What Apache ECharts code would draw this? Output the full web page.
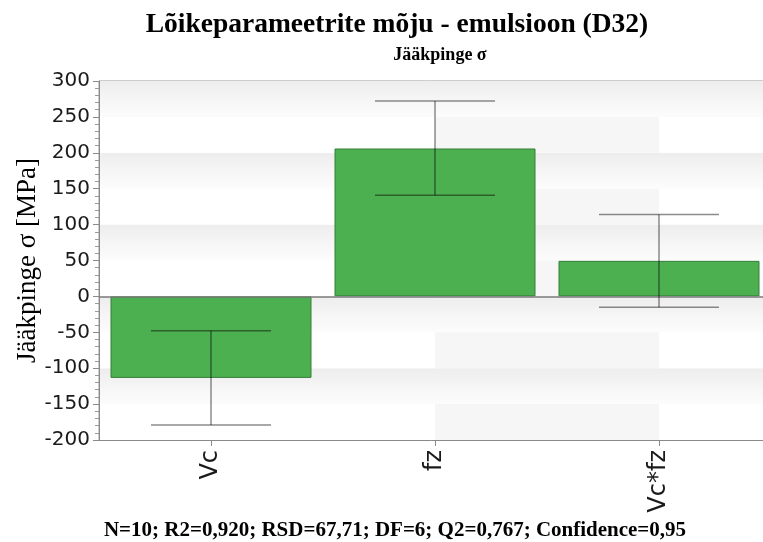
<!DOCTYPE html>
<html>
<head>
<meta charset="utf-8">
<title>Lõikeparameetrite mõju - emulsioon (D32)</title>
<script src="https://cdn.jsdelivr.net/npm/echarts@6/dist/echarts.min.js"></script>
<style>
  html, body { margin: 0; padding: 0; background: #ffffff; overflow: hidden; }
  #chart { width: 763px; height: 542px; }
</style>
</head>
<body>
<div id="chart"></div>
<script>
// Model terms and their coefficients (effect on residual stress, MPa)
const categories = ['Vc', 'fz', 'Vc*fz'];
const effects = [-113.5, 206, 49.5];
// 95 % confidence interval ends for each coefficient
const ciLow = [-179, 141, -15];
const ciHigh = [-48, 272, 114];
// Value axis ticks
const yTicks = [-200, -150, -100, -50, 0, 50, 100, 150, 200, 250, 300];

const mainTitle = 'Lõikeparameetrite mõju - emulsioon (D32)';
const subTitle = 'Jääkpinge σ';
const yName = 'Jääkpinge σ [MPa]';
const footer = 'N=10; R2=0,920; RSD=67,71; DF=6; Q2=0,767; Confidence=0,95';

const serif = '"Liberation Serif", "Times New Roman", serif';
const sans = '"DejaVu Sans", "Noto Sans", sans-serif';

const chart = echarts.init(document.getElementById('chart'), null, { renderer: 'canvas' });

const bandGray = new echarts.graphic.LinearGradient(0, 0, 0, 1, [
  { offset: 0, color: '#ededed' },
  { offset: 0.6, color: '#f7f7f7' },
  { offset: 1, color: '#fcfcfc' }
]);

// light bands (every other tick interval, starting at the bottom) get a faint
// shading in the middle column of the background
const shadedBands = [];
for (let i = 0; i < yTicks.length - 1; i += 2) {
  shadedBands.push([
    { xAxis: categories[1], yAxis: yTicks[i + 1] },
    { xAxis: categories[2], yAxis: yTicks[i] }
  ]);
}

const errorData = categories.map((c, i) => [i, ciLow[i], ciHigh[i]]);

chart.setOption({
  animation: false,
  backgroundColor: '#ffffff',
  title: [
    {
      text: mainTitle,
      left: 397, top: 11, textAlign: 'center', padding: 0,
      textStyle: { fontFamily: serif, fontWeight: 'bold', fontSize: 27.5, color: '#000000' }
    },
    {
      text: subTitle,
      left: 440, top: 46, textAlign: 'center', padding: 0,
      textStyle: { fontFamily: serif, fontWeight: 'bold', fontSize: 18, color: '#000000' }
    },
    {
      text: footer,
      left: 395, top: 520, textAlign: 'center', padding: 0,
      textStyle: { fontFamily: serif, fontWeight: 'bold', fontSize: 21, color: '#000000' }
    }
  ],
  grid: {
    left: 99, top: 81, width: 672, height: 359,
    outerBoundsMode: 'none',
    containLabel: false,
    show: true, backgroundColor: '#ffffff', borderColor: '#9a9a9a', borderWidth: 1
  },
  xAxis: {
    type: 'category',
    data: categories,
    axisLine: { onZero: false, lineStyle: { color: '#8a8a8a', width: 1 } },
    axisTick: { show: true, alignWithLabel: true, length: 6, lineStyle: { color: '#8a8a8a' } },
    axisLabel: {
      rotate: 90, margin: 10, fontFamily: sans, fontSize: 24, color: '#1a1a1a'
    },
    splitLine: { show: false }
  },
  yAxis: {
    type: 'value',
    min: yTicks[0], max: yTicks[yTicks.length - 1], interval: 50,
    name: yName,
    nameLocation: 'middle', nameRotate: 90, nameGap: 58,
    nameMoveOverlap: false,
    nameTextStyle: { fontFamily: serif, fontSize: 27, color: '#000000' },
    axisLine: { show: true, lineStyle: { color: '#8a8a8a', width: 1 } },
    axisTick: { show: true, length: 6, lineStyle: { color: '#8a8a8a' } },
    minorTick: { show: true, splitNumber: 5, length: 4, lineStyle: { color: '#9a9a9a' } },
    axisLabel: { margin: 9, fontFamily: sans, fontSize: 20, color: '#1a1a1a' },
    splitLine: { show: false },
    splitArea: { show: true, areaStyle: { color: ['#ffffff', bandGray] } }
  },
  series: [
    {
      // background shading of the middle column
      type: 'line',
      data: [],
      silent: true,
      z: 1,
      markArea: {
        silent: true,
        itemStyle: { color: 'rgba(0,0,0,0.035)' },
        data: shadedBands
      }
    },
    {
      type: 'bar',
      data: effects,
      barWidth: 201,
      itemStyle: { color: '#4caf50', borderColor: '#347f38', borderWidth: 1 },
      markLine: {
        silent: true, symbol: 'none', label: { show: false },
        lineStyle: { color: '#7a7a7a', width: 1.5, type: 'solid' },
        data: [{ yAxis: 0 }]
      },
      z: 2
    },
    {
      type: 'custom',
      data: errorData,
      z: 5,
      renderItem: function (params, api) {
        const x = api.value(0);
        const lo = api.coord([x, api.value(1)]);
        const hi = api.coord([x, api.value(2)]);
        const half = 60;
        const style = { stroke: 'rgba(0,0,0,0.45)', lineWidth: 1.5, fill: null };
        return {
          type: 'group',
          children: [
            { type: 'line', shape: { x1: hi[0], y1: hi[1], x2: lo[0], y2: lo[1] }, style: style },
            { type: 'line', shape: { x1: hi[0] - half, y1: hi[1], x2: hi[0] + half, y2: hi[1] }, style: style },
            { type: 'line', shape: { x1: lo[0] - half, y1: lo[1], x2: lo[0] + half, y2: lo[1] }, style: style }
          ]
        };
      }
    }
  ]
});
</script>
</body>
</html>
